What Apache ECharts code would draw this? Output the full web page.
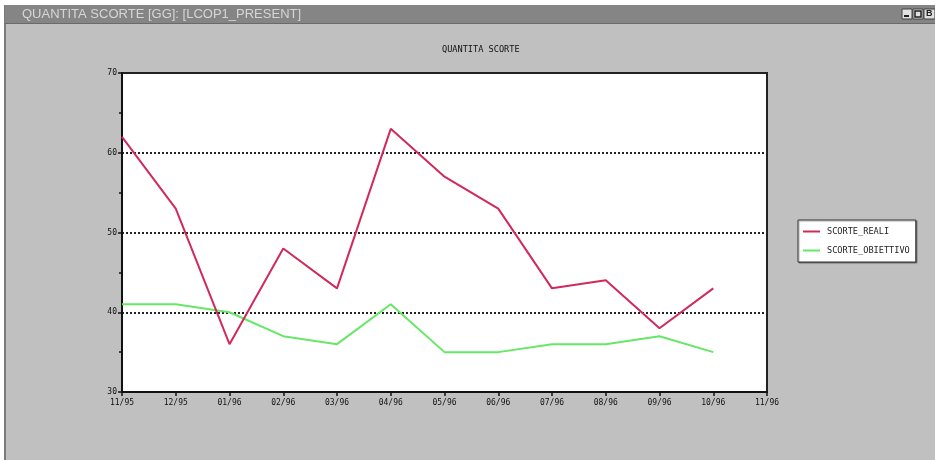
<!DOCTYPE html>
<html>
<head>
<meta charset="utf-8">
<script src="https://cdn.jsdelivr.net/npm/echarts@6/dist/echarts.min.js"></script>
<style>
html,body{margin:0;padding:0;background:#ffffff;}
#chart{width:935px;height:460px;}
</style>
</head>
<body>
<div id="chart"></div>
<script>
const windowTitle = 'QUANTITA SCORTE [GG]: [LCOP1_PRESENT]';
const chartTitle = 'QUANTITA SCORTE';
const categories = ['11/95','12/95','01/96','02/96','03/96','04/96','05/96','06/96','07/96','08/96','09/96','10/96','11/96'];
const scorteReali = [62, 53, 36, 48, 43, 63, 57, 53, 43, 44, 38, 43];
const scorteObiettivo = [41, 41, 40, 37, 36, 41, 35, 35, 36, 36, 37, 35];
const seriesNames = ['SCORTE_REALI', 'SCORTE_OBIETTIVO'];

const mono = 'DejaVu Sans Mono';
const chart = echarts.init(document.getElementById('chart'), null, {renderer: 'canvas'});
chart.setOption({
  animation: false,
  backgroundColor: '#ffffff',
  graphic: [
    {type: 'rect', z: -10, silent: true, shape: {x: 4, y: 5, width: 931, height: 455}, style: {fill: '#c0c0c0'}},
    {type: 'rect', z: -9, silent: true, shape: {x: 4, y: 5, width: 2, height: 455}, style: {fill: '#7a7a7a'}},
    {type: 'rect', z: -9, silent: true, shape: {x: 5, y: 5, width: 930, height: 18}, style: {fill: '#858585'}},
    {type: 'rect', z: -9, silent: true, shape: {x: 5, y: 23, width: 930, height: 1}, style: {fill: '#6a6a6a'}},
    {type: 'text', z: -8, silent: true, left: 22, top: 8, style: {text: windowTitle, fill: '#d6d6d6', font: '13px "Liberation Sans"'}},
    {type: 'rect', z: -8, silent: true, shape: {x: 902, y: 9, width: 10, height: 10}, style: {fill: '#e0e0e0', stroke: '#404040', lineWidth: 1}},
    {type: 'rect', z: -7, silent: true, shape: {x: 904, y: 15, width: 5, height: 2}, style: {fill: '#202020'}},
    {type: 'rect', z: -8, silent: true, shape: {x: 913, y: 9, width: 10, height: 10}, style: {fill: '#e0e0e0', stroke: '#404040', lineWidth: 1}},
    {type: 'rect', z: -7, silent: true, shape: {x: 915, y: 11, width: 6, height: 6}, style: {fill: 'none', stroke: '#202020', lineWidth: 1.5}},
    {type: 'rect', z: -8, silent: true, shape: {x: 924, y: 9, width: 11, height: 10}, style: {fill: '#e0e0e0', stroke: '#404040', lineWidth: 1}},
    {type: 'text', z: -7, silent: true, left: 926, top: 9, style: {text: 'B', fill: '#202020', font: 'bold 9px "Liberation Sans"'}}
  ],
  title: {
    text: chartTitle,
    left: 437,
    top: 40,
    textStyle: {fontFamily: mono, fontSize: 8.6, fontWeight: 'normal', color: '#111'}
  },
  legend: {
    orient: 'vertical',
    left: 798,
    top: 220,
    data: seriesNames,
    backgroundColor: '#ffffff',
    borderColor: '#333',
    borderWidth: 1,
    padding: [7, 6, 7, 5],
    itemGap: 10,
    itemWidth: 17,
    itemHeight: 2,
    icon: 'rect',
    shadowColor: 'rgba(0,0,0,0.35)',
    shadowOffsetX: 1,
    shadowOffsetY: 1,
    shadowBlur: 1,
    textStyle: {fontFamily: mono, fontSize: 8.6, color: '#222', padding: [0, 0, 0, 2]}
  },
  grid: {
    left: 122, right: 168, top: 73, bottom: 68,
    show: true, backgroundColor: '#ffffff', borderColor: '#222', borderWidth: 2
  },
  xAxis: {
    type: 'category',
    data: categories,
    boundaryGap: false,
    axisLine: {lineStyle: {color: '#111', width: 2}},
    axisTick: {show: true, length: 4, lineStyle: {color: '#111', width: 1.5}},
    axisLabel: {fontFamily: mono, fontSize: 8, color: '#111', margin: 7, interval: 0},
    splitLine: {show: false}
  },
  yAxis: {
    type: 'value',
    min: 30, max: 70, interval: 10,
    axisLine: {show: true, lineStyle: {color: '#111', width: 2}},
    axisTick: {show: true, length: 4, lineStyle: {color: '#111', width: 1.5}},
    minorTick: {show: true, splitNumber: 2, length: 3, lineStyle: {color: '#111', width: 1.5}},
    axisLabel: {fontFamily: mono, fontSize: 8, color: '#111', margin: 5},
    splitLine: {show: true, lineStyle: {color: '#222', width: 2, type: [2, 2]}}
  },
  series: [
    {name: seriesNames[0], type: 'line', data: scorteReali, symbol: 'none', color: '#d02a5c', lineStyle: {width: 2}, z: 3},
    {name: seriesNames[1], type: 'line', data: scorteObiettivo, symbol: 'none', color: '#66e866', lineStyle: {width: 2}, z: 2}
  ]
});
</script>
</body>
</html>
